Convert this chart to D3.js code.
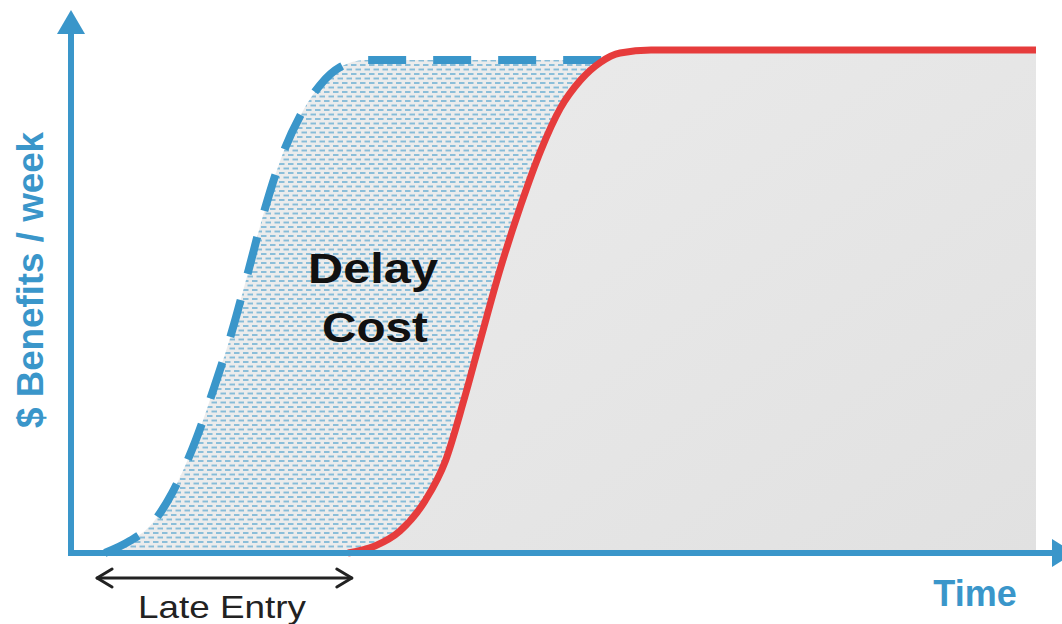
<!DOCTYPE html>
<html>
<head>
<meta charset="utf-8">
<script src="https://cdn.jsdelivr.net/npm/d3@7"></script>
<style>
  html, body { margin: 0; padding: 0; background: #ffffff; }
  svg { display: block; }
  text { font-family: "Liberation Sans", Arial, Helvetica, sans-serif; }
</style>
</head>
<body>
<script>
// Benefit curves (time 0-100, benefit 0-100)
var earlyTime = [3.5, 6.1, 8.2, 10.5, 12.9, 14.9, 16.7, 18.4, 19.9, 21.7, 23.8, 25.8, 27.9, 30.5, 40, 55];
var earlyValue = [0, 2.4, 5.4, 12.0, 22.3, 33.3, 44.2, 56.2, 67.1, 78.1, 87.1, 93.0, 96.6, 98.0, 98.0, 98.0];

var lateTime = [28.7, 31.5, 34.1, 36.7, 38.8, 40.7, 42.4, 44.5, 46.6, 48.7, 50.7, 52.8, 54.9, 56.9, 60.1, 80, 100];
var lateValue = [0, 1.4, 4.4, 10.4, 18.3, 30.3, 42.2, 56.6, 69.1, 80.1, 88.4, 94.0, 97.6, 99.4, 100, 100, 100];

// Late entry span on the time axis
var lateEntry = [2.7, 29.1];

var width = 1062, height = 624;
var blue = "#3a96ca", red = "#e63c3c";

var svg = d3.select("body").append("svg")
    .attr("width", width)
    .attr("height", height);

var x = d3.scaleLinear().domain([0, 100]).range([71, 1036]);
var y = d3.scaleLinear().domain([0, 100]).range([553, 50]);

var early = earlyTime.map(function (t, i) { return [t, earlyValue[i]]; });
var late = lateTime.map(function (t, i) { return [t, lateValue[i]]; });

var defs = svg.append("defs");

// dotted fill for the delay cost region
var dash = "#86bcd8";
var pat = defs.append("pattern")
    .attr("id", "dots")
    .attr("patternUnits", "userSpaceOnUse")
    .attr("width", 9)
    .attr("height", 9);
pat.append("rect").attr("width", 9).attr("height", 9).attr("fill", "#ececec");
pat.append("line").attr("x1", 0).attr("x2", 5.5).attr("y1", 2).attr("y2", 2)
    .attr("stroke", dash).attr("stroke-width", 1.9);
pat.append("line").attr("x1", 4.5).attr("x2", 10).attr("y1", 6.5).attr("y2", 6.5)
    .attr("stroke", dash).attr("stroke-width", 1.9);
pat.append("line").attr("x1", -4.5).attr("x2", 1).attr("y1", 6.5).attr("y2", 6.5)
    .attr("stroke", dash).attr("stroke-width", 1.9);

var grad = defs.append("linearGradient")
    .attr("id", "grey")
    .attr("x1", 0).attr("y1", 0).attr("x2", 1).attr("y2", 1);
grad.append("stop").attr("offset", "0%").attr("stop-color", "#ebebeb");
grad.append("stop").attr("offset", "100%").attr("stop-color", "#e1e1e1");

var area = d3.area()
    .x(function (d) { return x(d[0]); })
    .y0(y(0))
    .y1(function (d) { return y(d[1]); })
    .curve(d3.curveMonotoneX);

var line = d3.line()
    .x(function (d) { return x(d[0]); })
    .y(function (d) { return y(d[1]); })
    .curve(d3.curveMonotoneX);

// areas
svg.append("path").attr("d", area(early)).attr("fill", "url(#dots)");
svg.append("path").attr("d", area(late)).attr("fill", "url(#grey)");

// curves
svg.append("path")
    .attr("d", line(early))
    .attr("fill", "none")
    .attr("stroke", blue)
    .attr("stroke-width", 8)
    .attr("stroke-dasharray", "38 27");

svg.append("path")
    .attr("d", line(late))
    .attr("fill", "none")
    .attr("stroke", red)
    .attr("stroke-width", 7)
    .attr("stroke-linecap", "butt");

// axes with arrow heads
var ax = x(0), ay = y(0);
svg.append("line")
    .attr("x1", ax).attr("x2", ax)
    .attr("y1", ay + 3).attr("y2", 30)
    .attr("stroke", blue).attr("stroke-width", 6);
svg.append("path")
    .attr("d", "M" + ax + ",10L" + (ax - 14) + ",34L" + (ax + 14) + ",34Z")
    .attr("fill", blue);

svg.append("line")
    .attr("x1", ax - 3).attr("x2", 1055)
    .attr("y1", ay).attr("y2", ay)
    .attr("stroke", blue).attr("stroke-width", 6);
svg.append("path")
    .attr("d", "M1074," + ay + "L1052," + (ay - 14) + "L1052," + (ay + 14) + "Z")
    .attr("fill", blue);

// late entry double arrow
var ly = 578, lx0 = x(lateEntry[0]), lx1 = x(lateEntry[1]);
var arrowG = svg.append("g")
    .attr("stroke", "#222")
    .attr("stroke-width", 3)
    .attr("fill", "none")
    .attr("stroke-linecap", "round")
    .attr("stroke-linejoin", "round");
arrowG.append("line").attr("x1", lx0).attr("x2", lx1).attr("y1", ly).attr("y2", ly);
arrowG.append("path").attr("d", "M" + (lx0 + 15) + "," + (ly - 9) + "L" + lx0 + "," + ly + "L" + (lx0 + 15) + "," + (ly + 9));
arrowG.append("path").attr("d", "M" + (lx1 - 15) + "," + (ly - 9) + "L" + lx1 + "," + ly + "L" + (lx1 - 15) + "," + (ly + 9));

svg.append("text")
    .attr("x", 222).attr("y", 618)
    .attr("text-anchor", "middle")
    .attr("font-size", 32)
    .attr("fill", "#222")
    .attr("textLength", 168)
    .attr("lengthAdjust", "spacingAndGlyphs")
    .text("Late Entry");

// labels
svg.append("text")
    .attr("x", 975).attr("y", 606)
    .attr("text-anchor", "middle")
    .attr("font-size", 36)
    .attr("font-weight", "bold")
    .attr("fill", blue)
    .text("Time");

svg.append("text")
    .attr("transform", "translate(43,280) rotate(-90)")
    .attr("text-anchor", "middle")
    .attr("font-size", 36)
    .attr("font-weight", "bold")
    .attr("fill", blue)
    .attr("textLength", 296)
    .attr("lengthAdjust", "spacingAndGlyphs")
    .text("$ Benefits / week");

svg.append("text")
    .attr("x", 373).attr("y", 283)
    .attr("text-anchor", "middle")
    .attr("font-size", 42)
    .attr("font-weight", "bold")
    .attr("fill", "#111")
    .attr("textLength", 130)
    .attr("lengthAdjust", "spacingAndGlyphs")
    .text("Delay");

svg.append("text")
    .attr("x", 375).attr("y", 342)
    .attr("text-anchor", "middle")
    .attr("font-size", 42)
    .attr("font-weight", "bold")
    .attr("fill", "#111")
    .attr("textLength", 106)
    .attr("lengthAdjust", "spacingAndGlyphs")
    .text("Cost");
</script>
</body>
</html>
